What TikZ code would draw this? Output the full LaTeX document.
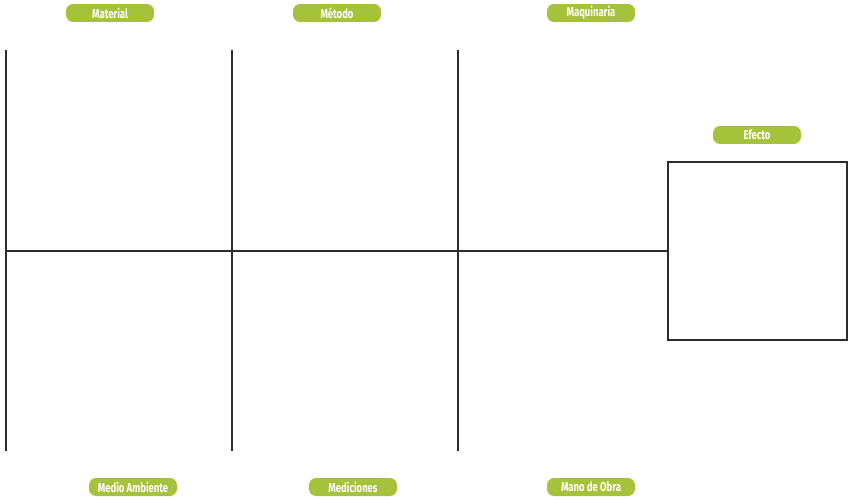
\documentclass[tikz,border=0pt]{standalone}
\usepackage{fontspec}
\setmainfont{Fira Sans}[FakeStretch=0.74]
\usetikzlibrary{calc}
\definecolor{pillgreen}{RGB}{166,193,58}
\definecolor{bonegray}{RGB}{45,45,45}

\begin{document}
\begin{tikzpicture}[x=0.02cm, y=-0.02cm,
    font=\fontsize{7.3}{8}\selectfont\bfseries,
    pill/.style={fill=pillgreen, text=white, rounded corners=4pt,
      minimum width=1.76cm, minimum height=0.36cm, inner sep=0pt},
    bone/.style={draw=bonegray, line width=1.4pt}]

      \useasboundingbox (0, 0) rectangle (852, 500);

      % cause labels
      \node [pill] (material) at (110, 13) {Material};
      \node [pill] (metodo) at (337, 13) {Método};
      \node [pill] (maquinaria) at (591, 13) {Maquinaria};
      \node [pill] (ambiente) at (133, 487) {Medio Ambiente};
      \node [pill] (mediciones) at (353, 487) {Mediciones};
      \node [pill] (manoobra) at (591, 487) {Mano de Obra};
      \node [pill] (efecto) at (757, 135) {Efecto};

      % effect box
      \node [bone, minimum width=3.58cm, minimum height=3.56cm, inner sep=0pt] (box) at (757.5, 251) {};

      % bones
      \coordinate (tail) at (6, 251);
      \coordinate (bonea top) at (6, 50);
      \coordinate (bonea bot) at (6, 451);
      \coordinate (boneb top) at (232, 50);
      \coordinate (boneb bot) at (232, 451);
      \coordinate (bonec top) at (458, 50);
      \coordinate (bonec bot) at (458, 451);

      \draw [bone] (tail) -- (box.west);
      \draw [bone] (bonea top) -- (bonea bot);
      \draw [bone] (boneb top) -- (boneb bot);
      \draw [bone] (bonec top) -- (bonec bot);
    \end{tikzpicture}
\end{document}
